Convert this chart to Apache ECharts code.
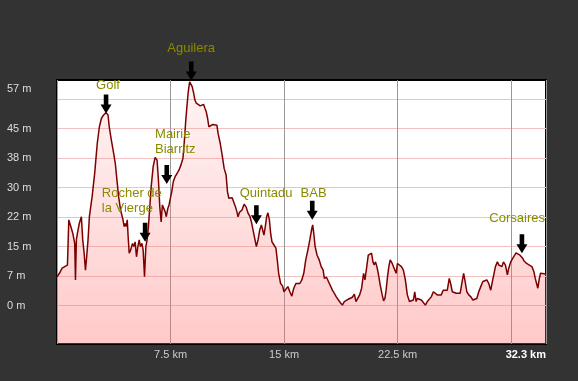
<!DOCTYPE html>
<html><head><meta charset="utf-8">
<script src="https://cdn.jsdelivr.net/npm/echarts@6/dist/echarts.min.js"></script>
<style>html,body{margin:0;padding:0;background:#333;} #c{width:578px;height:381px;}</style>
</head><body><div id="c"></div>
<script>
const distKm = [
0, 0.16, 0.34, 0.51, 0.61, 0.69, 0.78, 0.95, 1.04, 1.17,
1.22, 1.28, 1.35, 1.48, 1.61, 1.70, 1.79, 1.88, 1.96, 2.05,
2.14, 2.32, 2.49, 2.66, 2.80, 2.93, 3.08, 3.24, 3.37, 3.45,
3.59, 3.74, 3.85, 3.96, 4.07, 4.20, 4.36, 4.44, 4.51, 4.57,
4.64, 4.70, 4.77, 4.86, 4.99, 5.08, 5.16, 5.25, 5.34, 5.43,
5.51, 5.61, 5.69, 5.78, 5.87, 5.95, 6.04, 6.13, 6.22, 6.35,
6.48, 6.61, 6.70, 6.79, 6.88, 6.96, 7.05, 7.14, 7.22, 7.32,
7.40, 7.58, 7.68, 7.80, 7.93, 8.06, 8.19, 8.32, 8.41, 8.50,
8.59, 8.67, 8.76, 8.85, 8.93, 9.03, 9.11, 9.20, 9.33, 9.46,
9.55, 9.68, 9.77, 9.86, 9.95, 10.03, 10.16, 10.30, 10.43, 10.56,
10.64, 10.78, 10.91, 11.04, 11.17, 11.26, 11.35, 11.43, 11.57, 11.70,
11.79, 11.88, 11.96, 12.05, 12.14, 12.22, 12.36, 12.49, 12.62, 12.75,
12.84, 12.97, 13.06, 13.17, 13.28, 13.39, 13.50, 13.59, 13.67, 13.76,
13.85, 13.93, 14.03, 14.11, 14.20, 14.33, 14.46, 14.55, 14.64, 14.77,
14.90, 14.99, 15.12, 15.25, 15.38, 15.51, 15.64, 15.78, 15.91, 16.04,
16.17, 16.30, 16.43, 16.57, 16.70, 16.83, 16.89, 16.96, 17.05, 17.18,
17.32, 17.45, 17.58, 17.66, 17.80, 17.93, 18.06, 18.19, 18.32, 18.45,
18.59, 18.72, 18.85, 18.98, 19.11, 19.24, 19.37, 19.51, 19.64, 19.75,
19.86, 19.99, 20.12, 20.25, 20.34, 20.43, 20.56, 20.69, 20.78, 20.87,
20.95, 21.04, 21.13, 21.22, 21.35, 21.48, 21.57, 21.66, 21.74, 21.83,
21.92, 22.01, 22.14, 22.27, 22.40, 22.49, 22.62, 22.75, 22.88, 23.01,
23.14, 23.28, 23.41, 23.54, 23.63, 23.72, 23.80, 23.93, 24.07, 24.20,
24.33, 24.46, 24.59, 24.72, 24.86, 24.99, 25.12, 25.25, 25.38, 25.51,
25.64, 25.78, 25.91, 26.00, 26.11, 26.24, 26.37, 26.50, 26.63, 26.76,
26.86, 26.94, 27.07, 27.20, 27.34, 27.47, 27.60, 27.73, 27.86, 27.99,
28.13, 28.26, 28.39, 28.52, 28.65, 28.78, 28.87, 28.96, 29.09, 29.18,
29.26, 29.39, 29.49, 29.62, 29.75, 29.84, 29.97, 30.10, 30.23, 30.32,
30.45, 30.58, 30.67, 30.76, 30.84, 30.93, 31.02, 31.11, 31.20, 31.28,
31.37, 31.50, 31.59, 31.68, 31.76, 31.86, 31.94, 32.07, 32.30
];
const elevM = [
7.3, 8.2, 9.5, 9.9, 9.5, 10.3, 21.8, 19.6, 18.4, 15.8,
6.5, 16.7, 18.4, 21.0, 22.6, 16.7, 13.4, 9.0, 12.4, 16.7,
22.6, 27.7, 33.7, 41.3, 45.5, 47.6, 48.5, 49.1, 48.5, 45.5,
42.1, 38.8, 36.2, 31.9, 27.7, 24.3, 21.8, 20.1, 20.9, 20.1,
21.8, 17.5, 13.3, 14.1, 15.8, 15.0, 16.2, 12.4, 15.0, 16.7,
15.0, 15.8, 14.1, 7.3, 15.0, 16.7, 20.1, 25.1, 30.2, 35.3,
37.7, 37.0, 31.9, 25.1, 21.3, 25.6, 25.1, 23.9, 22.6, 24.7,
25.6, 29.0, 31.5, 32.8, 33.6, 34.5, 35.8, 37.5, 41.7, 46.8,
51.0, 54.4, 56.9, 57.3, 55.7, 54.0, 52.3, 51.5, 51.0, 50.8,
50.6, 51.2, 50.2, 49.3, 47.6, 45.5, 45.5, 46.1, 46.4, 45.9,
43.8, 41.3, 38.3, 34.9, 33.2, 29.0, 27.3, 26.8, 27.4, 27.1,
25.1, 23.9, 22.6, 23.7, 23.2, 24.3, 25.8, 25.1, 23.5, 22.6,
21.3, 18.8, 17.1, 15.0, 16.7, 19.2, 20.5, 20.1, 17.9, 20.1,
22.6, 23.6, 21.8, 18.4, 16.2, 15.4, 14.6, 11.6, 8.2, 5.6,
5.0, 3.5, 3.9, 4.8, 3.5, 2.4, 4.4, 5.6, 5.5, 5.6,
6.5, 8.2, 11.6, 14.1, 16.7, 19.6, 20.5, 18.4, 15.0, 12.8,
11.6, 9.9, 9.0, 6.9, 7.2, 6.1, 5.6, 3.9, 3.1, 2.2,
1.4, 0.7, 0.1, 1.0, 1.4, 1.6, 1.8, 2.1, 2.9, 1.0,
1.4, 2.7, 4.4, 8.2, 6.5, 9.0, 12.8, 13.1, 13.3, 11.1,
10.3, 11.1, 9.9, 8.2, 5.2, 2.7, 1.2, 1.8, 3.9, 7.3,
9.9, 11.6, 10.7, 10.6, 8.2, 10.7, 10.5, 9.9, 9.0, 6.5,
2.7, 1.0, 0.6, 1.4, 3.5, 1.0, 1.8, 1.8, 1.4, 1.0,
0.1, 1.0, 1.2, 2.2, 3.5, 3.1, 2.7, 2.7, 2.7, 3.9,
4.4, 3.9, 6.9, 5.6, 3.5, 3.9, 3.1, 3.5, 3.1, 6.1,
8.2, 6.5, 3.5, 2.7, 2.2, 1.4, 1.4, 1.8, 3.5, 4.8,
6.1, 5.6, 6.5, 5.6, 3.9, 6.5, 8.2, 9.9, 11.1, 10.3,
10.7, 9.9, 11.1, 10.3, 7.8, 9.5, 11.1, 12.0, 12.8, 13.4,
13.3, 12.8, 12.3, 12.0, 11.4, 11.1, 10.7, 10.9, 10.3, 10.7,
9.9, 8.6, 6.9, 6.5, 4.4, 6.9, 8.2, 8.3, 8.0
];
const xTickValues = [7.5, 15, 22.5, 32.3];
const xTickLabels = ['7.5 km', '15 km', '22.5 km', '32.3 km'];
const yGridValues = [0, 7.5, 15, 22.5, 30, 37.5, 45, 52.5];
const yTickValues = [0, 7.5, 15, 22.5, 30, 37.5, 45, 55.1];
const yTickLabels = ['0 m', '7 m', '15 m', '22 m', '30 m', '38 m', '45 m', '57 m'];
const placeNames = ['Golf', 'Rocher de\nla Vierge', 'Mairie\nBiarritz', 'Aguilera', 'Quintadu', 'BAB', 'Corsaires'];
const placeKm = [3.24, 5.82, 7.25, 8.87, 13.17, 16.86, 30.71];
const placeElev = [48.9, 16.2, 30.9, 57.3, 20.7, 21.8, 13.3];
// label layout (pixel offset of text left/middle from arrow tip)
const labelDx = [-10, -43.3, -11.7, -24, -16.7, -11.7, -32.6];
const labelDy = [-28.3, -40.9, -42.3, -32, -30.7, -26.7, -35];

const chart = echarts.init(document.getElementById('c'), null, {renderer: 'canvas'});
const findIdx = (arr, v) => arr.findIndex(t => Math.abs(t - v) < 1e-6);
chart.setOption({
  animation: false,
  backgroundColor: '#333333',
  grid: {left: 57, right: 32, top: 80, bottom: 37, show: true, backgroundColor: '#ffffff', borderColor: '#000', borderWidth: 2},
  xAxis: {
    type: 'value', min: 0, max: 32.3, interval: 7.5,
    axisLine: {show: false}, axisTick: {show: false},
    splitLine: {show: true, lineStyle: {color: '#999999', width: 1}},
    axisLabel: {
      showMinLabel: false, showMaxLabel: true, alignMaxLabel: 'right',
      margin: 5, color: '#cccccc', fontSize: 11, fontFamily: 'Arial',
      formatter: v => {
        const i = findIdx(xTickValues, v);
        if (i < 0) return '';
        return i === xTickValues.length - 1 ? '{b|' + xTickLabels[i] + '}' : xTickLabels[i];
      },
      rich: {b: {fontWeight: 'bold', color: '#ffffff', fontSize: 11, fontFamily: 'Arial'}}
    }
  },
  yAxis: {
    type: 'value', min: -9.8, max: 57.4,
    axisLine: {show: false},
    axisTick: {show: false, customValues: yGridValues},
    splitLine: {show: true, lineStyle: {color: '#f2c2c2', width: 1}},
    axisLabel: {
      customValues: yTickValues,
      formatter: v => { const i = findIdx(yTickValues, v); return i < 0 ? '' : yTickLabels[i]; },
      align: 'left', margin: 50, color: '#dddddd', fontSize: 11, fontFamily: 'Arial'
    }
  },
  series: [{
    type: 'line',
    data: distKm.map((d, i) => [d, elevM[i]]),
    showSymbol: false,
    lineStyle: {color: '#7d0000', width: 1.5},
    areaStyle: {
      origin: 'start',
      color: new echarts.graphic.LinearGradient(0, 0, 0, 1, [
        {offset: 0, color: 'rgba(255,140,140,0.15)'},
        {offset: 1, color: 'rgba(255,100,100,0.5)'}
      ])
    },
    markPoint: {
      silent: true,
      symbol: 'path://M3.2,0L7.8,0L7.8,10L11,10L5.5,19L0,10L3.2,10Z',
      symbolSize: [11, 19],
      symbolOffset: [0, -9.5],
      itemStyle: {color: '#000000'},
      label: {show: true, color: '#8a8a00', fontSize: 13, fontFamily: 'Arial', align: 'left', verticalAlign: 'middle', lineHeight: 15},
      data: placeNames.map((n, i) => ({
        coord: [placeKm[i], placeElev[i]],
        value: n,
        label: {formatter: n, position: [labelDx[i] + 5.5, labelDy[i] + 19]}
      }))
    }
  }]
});
</script>
</body></html>
